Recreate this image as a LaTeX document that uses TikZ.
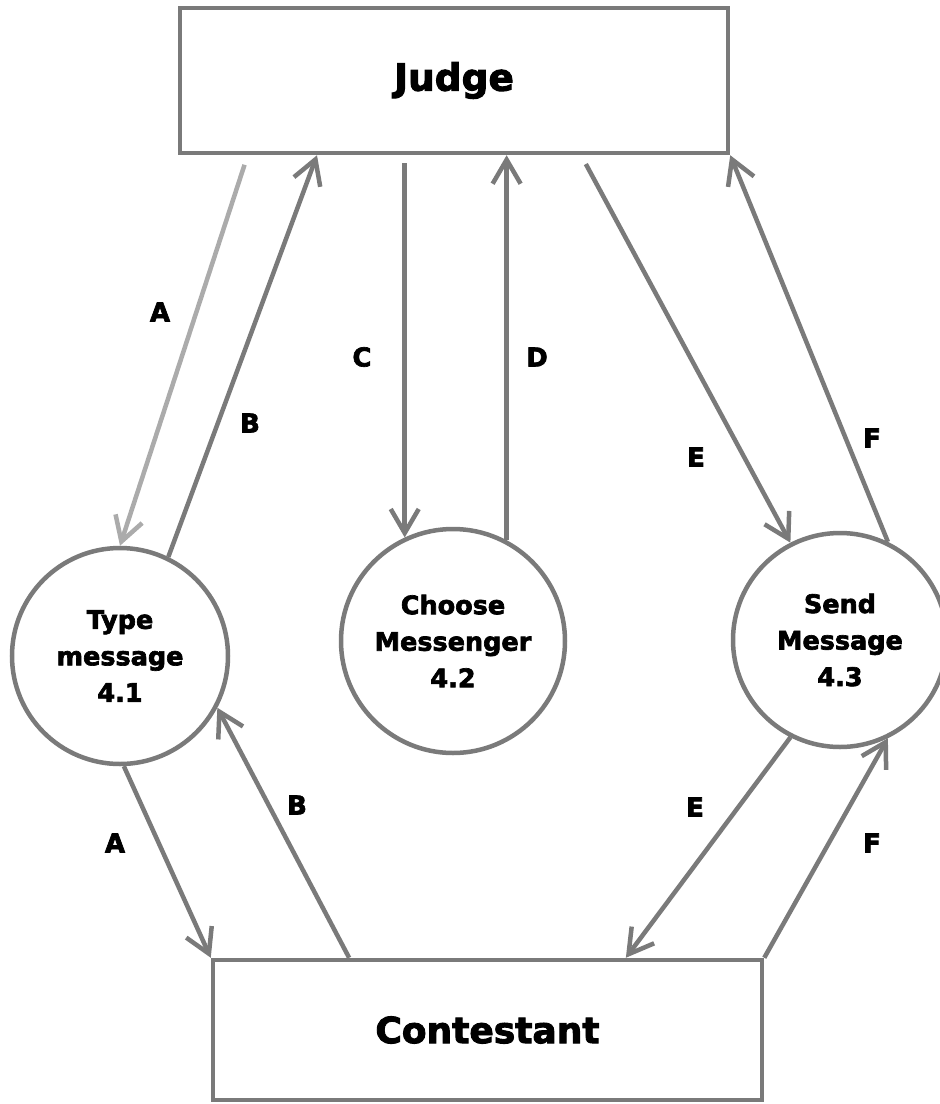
\documentclass[tikz,border=0pt]{standalone}
\usepackage{fontspec}
\setmainfont{DejaVu Sans}[BoldFeatures={FakeBold=2.6}]
\usetikzlibrary{arrows.meta,calc}
\definecolor{linegray}{HTML}{7A7A7A}
\definecolor{palegray}{HTML}{ABABAB}
\begin{document}
\begin{tikzpicture}[x=1pt,y=-1pt,
  entity/.style={draw=linegray,line width=4.5pt,rectangle,inner sep=0pt},
  process/.style={draw=linegray,line width=4.5pt,circle,inner sep=0pt,align=center,
    font=\bfseries\fontsize{25.5}{36.5}\selectfont},
  flow/.style={draw=linegray,line width=4.5pt,-{Straight Barb[length=24pt,width=28pt]}},
  lab/.style={font=\bfseries\fontsize{26}{26}\selectfont}
]
\useasboundingbox[fill=white] (0,0) rectangle (940,1104);

% external entities
\node[entity,minimum width=548pt,minimum height=145pt,
  font=\bfseries\fontsize{37.5}{37.5}\selectfont] (judge) at (454,80.5) {Judge};
\node[entity,minimum width=549pt,minimum height=140pt,
  font=\bfseries\fontsize{36}{36}\selectfont] (contestant) at (487.5,1030) {Contestant};

% processes
\node[process,minimum size=216pt] (tm) at (120,656) {Type\\message\\4.1};
\node[process,minimum size=224pt] (cm) at (453,641) {Choose\\Messenger\\4.2};
\node[process,minimum size=214pt] (sm) at (840,640) {Send\\Message\\4.3};

% data flows between Judge and the processes
\draw[flow,draw=palegray,shorten <=10pt]
  ($(judge.south west)!0.1265!(judge.south east)$) -- (tm.90);
\draw[flow] (tm.64) -- ($(judge.south west)!0.252!(judge.south east)$);
\draw[flow,shorten <=8pt] (judge.south -| cm.115) -- (cm.115);
\draw[flow] (cm.62) -- (cm.62 |- judge.south);
\draw[flow,shorten <=10pt]
  ($(judge.south west)!0.73!(judge.south east)$) -- (sm.117);
\draw[flow] (sm.64) -- (judge.south east);

% data flows between the processes and Contestant
\draw[flow] (tm.-88) -- (contestant.north west);
\draw[flow] ($(contestant.north west)!0.25!(contestant.north east)$) -- (tm.-28);
\draw[flow] (sm.-117) -- ($(contestant.north west)!0.75!(contestant.north east)$);
\draw[flow] (contestant.north east) -- (sm.-64);

% flow labels
\node[lab] (lA1) at (160,312) {A};
\node[lab] (lB1) at (250,423) {B};
\node[lab] (lC) at (362,357) {C};
\node[lab] (lD) at (537,357) {D};
\node[lab] (lE1) at (696,457) {E};
\node[lab] (lF1) at (872,438) {F};
\node[lab] (lA2) at (115,843) {A};
\node[lab] (lB2) at (297,805) {B};
\node[lab] (lE2) at (695,807) {E};
\node[lab] (lF2) at (872,843) {F};
\end{tikzpicture}
\end{document}
